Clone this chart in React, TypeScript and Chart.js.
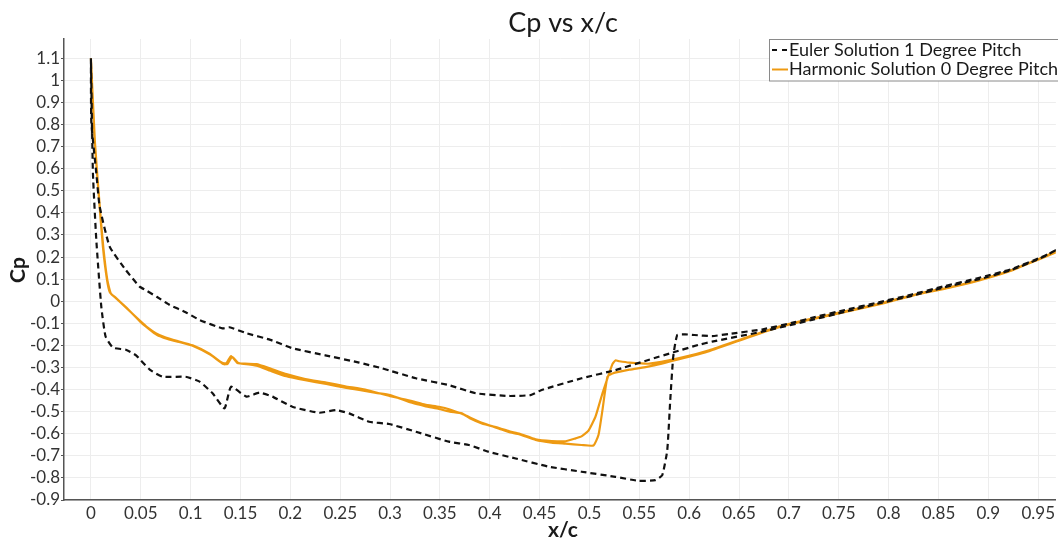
import React, { useEffect, useRef } from "react";
import { Chart, registerables } from "chart.js";

Chart.register(...registerables);

// Euler solution, 1 degree pitch: suction side (trailing edge -> leading edge)
const eulerUpperX = [
  0.968, 0.956, 0.923, 0.89, 0.856, 0.823, 0.79, 0.756, 0.723, 0.706, 0.673, 0.64, 0.623,
  0.605, 0.596, 0.588, 0.584, 0.581, 0.578, 0.573, 0.566, 0.549, 0.526, 0.492, 0.459, 0.426,
  0.399, 0.379, 0.359, 0.326, 0.299, 0.279, 0.259, 0.246, 0.229, 0.202, 0.182, 0.169, 0.156,
  0.1405, 0.134, 0.122, 0.109, 0.095, 0.072, 0.059, 0.045, 0.035, 0.022, 0.0147, 0.0104,
  0.0054, 0.002, 0,
];
const eulerUpperCp = [
  0.232, 0.205, 0.145, 0.105, 0.068, 0.03, -0.005, -0.04, -0.075, -0.095, -0.128, -0.148,
  -0.158, -0.153, -0.15, -0.153, -0.251, -0.447, -0.674, -0.787, -0.81, -0.813, -0.795, -0.772,
  -0.749, -0.712, -0.682, -0.651, -0.636, -0.591, -0.556, -0.546, -0.508, -0.493, -0.505,
  -0.478, -0.432, -0.414, -0.432, -0.387, -0.485, -0.417, -0.364, -0.342, -0.342, -0.31,
  -0.244, -0.22, -0.21, -0.16, -0.025, 0.277, 0.58, 1.1,
];
// Euler solution, 1 degree pitch: pressure side (leading edge -> trailing edge)
const eulerLowerX = [
  0, 0.0004, 0.0054, 0.0087, 0.0188, 0.035, 0.0488, 0.055, 0.066, 0.079, 0.095, 0.109, 0.132,
  0.139, 0.156, 0.18, 0.202, 0.235, 0.269, 0.292, 0.326, 0.359, 0.386, 0.419, 0.441, 0.452,
  0.492, 0.526, 0.559, 0.586, 0.609, 0.623, 0.673, 0.723, 0.756, 0.79, 0.823, 0.856, 0.89,
  0.923, 0.956, 0.968,
];
const eulerLowerCp = [
  1.1, 0.81, 0.58, 0.43, 0.247, 0.141, 0.066, 0.05, 0.02, -0.017, -0.05, -0.085, -0.123,
  -0.118, -0.145, -0.175, -0.213, -0.245, -0.278, -0.304, -0.349, -0.38, -0.417, -0.429,
  -0.425, -0.402, -0.349, -0.312, -0.266, -0.229, -0.198, -0.183, -0.138, -0.085, -0.048,
  -0.01, 0.024, 0.063, 0.099, 0.141, 0.202, 0.232,
];

// Harmonic solution, 0 degree pitch: first surface (trailing edge -> leading edge)
const harmonicAX = [
  0.968, 0.95, 0.92, 0.89, 0.86, 0.83, 0.79, 0.75, 0.72, 0.69, 0.66, 0.62, 0.59, 0.56, 0.54,
  0.53, 0.526, 0.523, 0.518, 0.513, 0.506, 0.499, 0.492, 0.486, 0.476, 0.462, 0.446, 0.43,
  0.419, 0.41, 0.392, 0.38, 0.372, 0.36, 0.349, 0.335, 0.322, 0.3, 0.286, 0.269, 0.255, 0.236,
  0.215, 0.196, 0.18, 0.166, 0.15, 0.147, 0.1405, 0.136, 0.132, 0.119, 0.102, 0.085, 0.075,
  0.065, 0.057, 0.049, 0.035, 0.025, 0.019, 0.016, 0.012, 0.0087, 0.0037, 0,
];
const harmonicACp = [
  0.225, 0.19, 0.135, 0.095, 0.062, 0.035, -0.012, -0.052, -0.082, -0.115, -0.16, -0.222,
  -0.258, -0.283, -0.278, -0.272, -0.268, -0.285, -0.349, -0.417, -0.523, -0.586, -0.612,
  -0.621, -0.634, -0.633, -0.625, -0.6, -0.588, -0.575, -0.553, -0.53, -0.508, -0.5, -0.488,
  -0.475, -0.46, -0.425, -0.415, -0.402, -0.392, -0.375, -0.358, -0.34, -0.315, -0.292, -0.282,
  -0.28, -0.248, -0.28, -0.28, -0.238, -0.2, -0.178, -0.165, -0.145, -0.12, -0.088, -0.028,
  0.015, 0.04, 0.1, 0.247, 0.43, 0.73, 1.1,
];
// Harmonic solution, 0 degree pitch: second surface (leading edge -> trailing edge)
const harmonicBX = [
  0, 0.004, 0.009, 0.0125, 0.0165, 0.02, 0.026, 0.037, 0.05, 0.058, 0.066, 0.076, 0.086, 0.103,
  0.12, 0.133, 0.137, 0.1415, 0.148, 0.166, 0.18, 0.196, 0.215, 0.236, 0.255, 0.275, 0.3, 0.322,
  0.335, 0.349, 0.36, 0.372, 0.392, 0.41, 0.419, 0.43, 0.446, 0.462, 0.476, 0.492, 0.504,
  0.509, 0.513, 0.518, 0.523, 0.54, 0.56, 0.59, 0.62, 0.66, 0.69, 0.72, 0.75, 0.79, 0.83,
  0.86, 0.89, 0.92, 0.95, 0.968,
];
const harmonicBCp = [
  1.1, 0.72, 0.42, 0.24, 0.095, 0.035, 0.01, -0.035, -0.095, -0.125, -0.152, -0.17, -0.182,
  -0.204, -0.243, -0.285, -0.284, -0.252, -0.28, -0.285, -0.305, -0.33, -0.352, -0.368, -0.385,
  -0.4, -0.43, -0.452, -0.468, -0.478, -0.49, -0.51, -0.55, -0.578, -0.592, -0.603, -0.628,
  -0.64, -0.645, -0.651, -0.653, -0.606, -0.493, -0.342, -0.327, -0.31, -0.295, -0.262,
  -0.226, -0.163, -0.118, -0.085, -0.055, -0.015, 0.032, 0.06, 0.093, 0.133, 0.188, 0.222,
];

const xTicks = [
  0, 0.05, 0.1, 0.15, 0.2, 0.25, 0.3, 0.35, 0.4, 0.45, 0.5, 0.55, 0.6, 0.65, 0.7, 0.75, 0.8,
  0.85, 0.9, 0.95,
];
const xTickLabels = [
  "0", "0.05", "0.1", "0.15", "0.2", "0.25", "0.3", "0.35", "0.4", "0.45", "0.5", "0.55",
  "0.6", "0.65", "0.7", "0.75", "0.8", "0.85", "0.9", "0.95",
];
const yTicks = [
  -0.9, -0.8, -0.7, -0.6, -0.5, -0.4, -0.3, -0.2, -0.1, 0, 0.1, 0.2, 0.3, 0.4, 0.5, 0.6, 0.7,
  0.8, 0.9, 1, 1.1,
];
const yTickLabels = [
  "-0.9", "-0.8", "-0.7", "-0.6", "-0.5", "-0.4", "-0.3", "-0.2", "-0.1", "0", "0.1", "0.2",
  "0.3", "0.4", "0.5", "0.6", "0.7", "0.8", "0.9", "1", "1.1",
];

const seriesNames = ["Euler Solution 1 Degree Pitch", "Harmonic Solution 0 Degree Pitch"];
const chartTitle = "Cp vs x/c";
const xTitle = "x/c";
const yTitle = "Cp";

const FONT = "Lato, 'DejaVu Sans', sans-serif";
const EULER_COLOR = "#111111";
const HARMONIC_COLOR = "#ee9a12";

const toPoints = (xs: number[], ys: number[]) => xs.map((x, i) => ({ x, y: ys[i] }));

const labelFor = (values: number[], labels: string[], v: number) => {
  const i = values.findIndex((t) => Math.abs(t - v) < 1e-6);
  return i >= 0 ? labels[i] : "";
};

// Title, axis titles and the boxed legend drawn over the chart
const overlayPlugin = {
  id: "overlay",
  afterDraw(chart: any) {
    const ctx = chart.ctx as CanvasRenderingContext2D;
    ctx.save();
    ctx.fillStyle = "#1a1a1a";
    ctx.textBaseline = "middle";

    ctx.textAlign = "center";
    ctx.font = `27px ${FONT}`;
    ctx.fillText(chartTitle, 563, 23);

    ctx.font = `bold 21px ${FONT}`;
    ctx.fillText(xTitle, 563, 530);

    ctx.save();
    ctx.translate(18, 270);
    ctx.rotate(-Math.PI / 2);
    ctx.fillText(yTitle, 0, 0);
    ctx.restore();

    // legend box
    const bx = 769.5;
    const by = 39.5;
    ctx.fillStyle = "#ffffff";
    ctx.fillRect(bx, by, 320, 41.5);
    ctx.strokeStyle = "#8a8a8a";
    ctx.lineWidth = 1;
    ctx.strokeRect(bx, by, 320, 41.5);

    ctx.lineWidth = 2;
    ctx.strokeStyle = EULER_COLOR;
    ctx.setLineDash([5, 5]);
    ctx.beginPath();
    ctx.moveTo(772, 50);
    ctx.lineTo(788, 50);
    ctx.stroke();

    ctx.setLineDash([]);
    ctx.strokeStyle = HARMONIC_COLOR;
    ctx.beginPath();
    ctx.moveTo(772, 69.5);
    ctx.lineTo(788, 69.5);
    ctx.stroke();

    ctx.fillStyle = "#1a1a1a";
    ctx.textAlign = "left";
    ctx.font = `18px ${FONT}`;
    ctx.fillText(seriesNames[0], 789, 50);
    ctx.fillText(seriesNames[1], 789, 69.5);
    ctx.restore();
  },
};

export default function App() {
  const canvasRef = useRef<HTMLCanvasElement | null>(null);

  useEffect(() => {
    document.body.style.margin = "0";
    const canvas = canvasRef.current;
    if (!canvas) return;

    const chart = new Chart(canvas, {
      type: "scatter",
      data: {
        datasets: [
          {
            label: seriesNames[0],
            data: [
              ...toPoints(eulerUpperX, eulerUpperCp),
              ...toPoints(eulerLowerX, eulerLowerCp),
            ],
            showLine: true,
            borderColor: EULER_COLOR,
            backgroundColor: EULER_COLOR,
            borderWidth: 2.2,
            borderDash: [6, 4],
            pointRadius: 0,
            tension: 0.15,
          },
          {
            label: seriesNames[1],
            data: [
              ...toPoints(harmonicAX, harmonicACp),
              ...toPoints(harmonicBX, harmonicBCp),
            ],
            showLine: true,
            borderColor: HARMONIC_COLOR,
            backgroundColor: HARMONIC_COLOR,
            borderWidth: 2.2,
            pointRadius: 0,
            tension: 0.15,
          },
        ],
      },
      options: {
        animation: false,
        responsive: false,
        devicePixelRatio: 1,
        layout: { padding: { top: 39, left: 0, right: 0, bottom: 0 } },
        plugins: {
          legend: { display: false },
          title: { display: false },
          tooltip: { enabled: false },
        },
        scales: {
          x: {
            type: "linear",
            min: -0.027,
            max: 0.9677,
            afterBuildTicks: (scale: any) => {
              scale.ticks = xTicks.map((v) => ({ value: v }));
            },
            afterFit: (scale: any) => {
              scale.height = 42;
            },
            grid: { color: "#ededed", lineWidth: 1, drawTicks: false },
            border: { display: true, color: "#555555", width: 1.5 },
            ticks: {
              autoSkip: false,
              maxRotation: 0,
              padding: 3,
              color: "#333333",
              font: { family: FONT, size: 17 },
              callback: (v: any) => labelFor(xTicks, xTickLabels, Number(v)),
            },
          },
          y: {
            type: "linear",
            min: -0.9,
            max: 1.187,
            afterBuildTicks: (scale: any) => {
              scale.ticks = yTicks.map((v) => ({ value: v }));
            },
            afterFit: (scale: any) => {
              scale.width = 64;
            },
            grid: { color: "#ededed", lineWidth: 1, tickLength: 3, tickColor: "#555555" },
            border: { display: true, color: "#555555", width: 1.5 },
            ticks: {
              autoSkip: false,
              padding: 1,
              color: "#333333",
              font: { family: FONT, size: 17 },
              callback: (v: any) => labelFor(yTicks, yTickLabels, Number(v)),
            },
          },
        },
      },
      plugins: [overlayPlugin],
    });

    return () => chart.destroy();
  }, []);

  return (
    <div style={{ position: "fixed", left: 0, top: 0, width: 1058, height: 542 }}>
      <canvas ref={canvasRef} width={1058} height={542} style={{ display: "block" }} />
    </div>
  );
}
